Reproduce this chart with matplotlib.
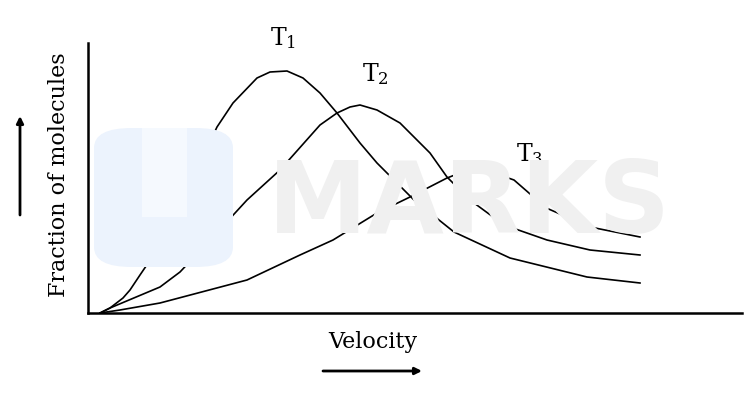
import matplotlib
matplotlib.use("Agg")
import matplotlib.pyplot as plt
from matplotlib.patches import FancyBboxPatch, Rectangle

plt.rcParams['font.family'] = 'DejaVu Serif'
plt.rcParams['mathtext.fontset'] = 'dejavuserif'

# curves (velocity, fraction), arbitrary units
t1_v = [12, 22, 35, 42, 52, 69, 95, 112, 129, 145, 169, 182, 199, 215, 232, 249, 272, 289, 326, 366, 422, 499, 552]
t1_f = [0, 5, 15, 23, 38, 63, 113, 150, 186, 210, 235, 241, 242, 235, 220, 200, 170, 150, 113, 81, 55, 36, 30]

t2_v = [12, 22, 72, 92, 125, 159, 192, 232, 249, 262, 272, 289, 312, 326, 342, 359, 382, 416, 459, 502, 552]
t2_f = [0, 5, 26, 41, 76, 113, 143, 188, 200, 206, 208, 203, 190, 176, 160, 136, 113, 88, 73, 63, 58]

t3_v = [12, 32, 72, 159, 212, 245, 289, 322, 359, 372, 406, 426, 449, 456, 502, 552]
t3_f = [0, 3, 10, 33, 58, 73, 100, 116, 135, 140, 140, 133, 113, 106, 86, 76]

labels = ['T$_1$', 'T$_2$', 'T$_3$']
label_pos = [(182, 268), (274, 232), (428, 152)]

W, H = 754, 397
fig = plt.figure(figsize=(W / 100, H / 100), dpi=100)

# faint watermark behind the plot
logo = FancyBboxPatch((94 / W, 1 - 267 / H), 139 / W, 139 / H,
                      boxstyle="round,pad=0,rounding_size=0.05",
                      transform=fig.transFigure, facecolor='#ecf3fd', edgecolor='none', zorder=0)
fig.patches.append(logo)
fig.patches.append(Rectangle((142 / W, 1 - 217 / H), 45 / W, 89 / H, transform=fig.transFigure,
                             facecolor='#f5f9fe', edgecolor='none', zorder=0))
fig.text(469 / W, 1 - 233 / H, 'MARKS', family='DejaVu Sans', weight='bold', fontsize=72,
         color='#f0f0f0', ha='center', va='baseline', zorder=0)

ax = fig.add_axes([88 / W, 1 - 313 / H, (742 - 88) / W, (313 - 43) / H])
ax.patch.set_alpha(0)

for v, f in [(t1_v, t1_f), (t2_v, t2_f), (t3_v, t3_f)]:
    ax.plot(v, f, color='black', lw=1.2, solid_joinstyle='round')

for lab, (x, y) in zip(labels, label_pos):
    ax.text(x, y, lab, fontsize=17, ha='left', va='baseline')

ax.set_xlim(0, 654)
ax.set_ylim(0, 270)
ax.spines['top'].set_visible(False)
ax.spines['right'].set_visible(False)
ax.spines['left'].set_linewidth(1.8)
ax.spines['bottom'].set_linewidth(1.8)
ax.set_xticks([])
ax.set_yticks([])

fig.text(59 / W, 1 - 175 / H, 'Fraction of molecules', rotation=90, fontsize=16,
         ha='center', va='center')
fig.text(373 / W, 1 - 348 / H, 'Velocity', fontsize=16, ha='center', va='baseline')

# direction arrows
fig.add_artist(plt.Annotation('', xy=(20 / W, 1 - 116 / H), xytext=(20 / W, 1 - 215 / H),
                              xycoords='figure fraction', textcoords='figure fraction',
                              arrowprops=dict(arrowstyle='-|>', lw=2, color='black',
                                              mutation_scale=10, shrinkA=0, shrinkB=0)))
fig.add_artist(plt.Annotation('', xy=(422 / W, 1 - 371 / H), xytext=(323 / W, 1 - 371 / H),
                              xycoords='figure fraction', textcoords='figure fraction',
                              arrowprops=dict(arrowstyle='-|>', lw=2, color='black',
                                              mutation_scale=10, shrinkA=0, shrinkB=0)))

fig.savefig('out.png', dpi=100)
